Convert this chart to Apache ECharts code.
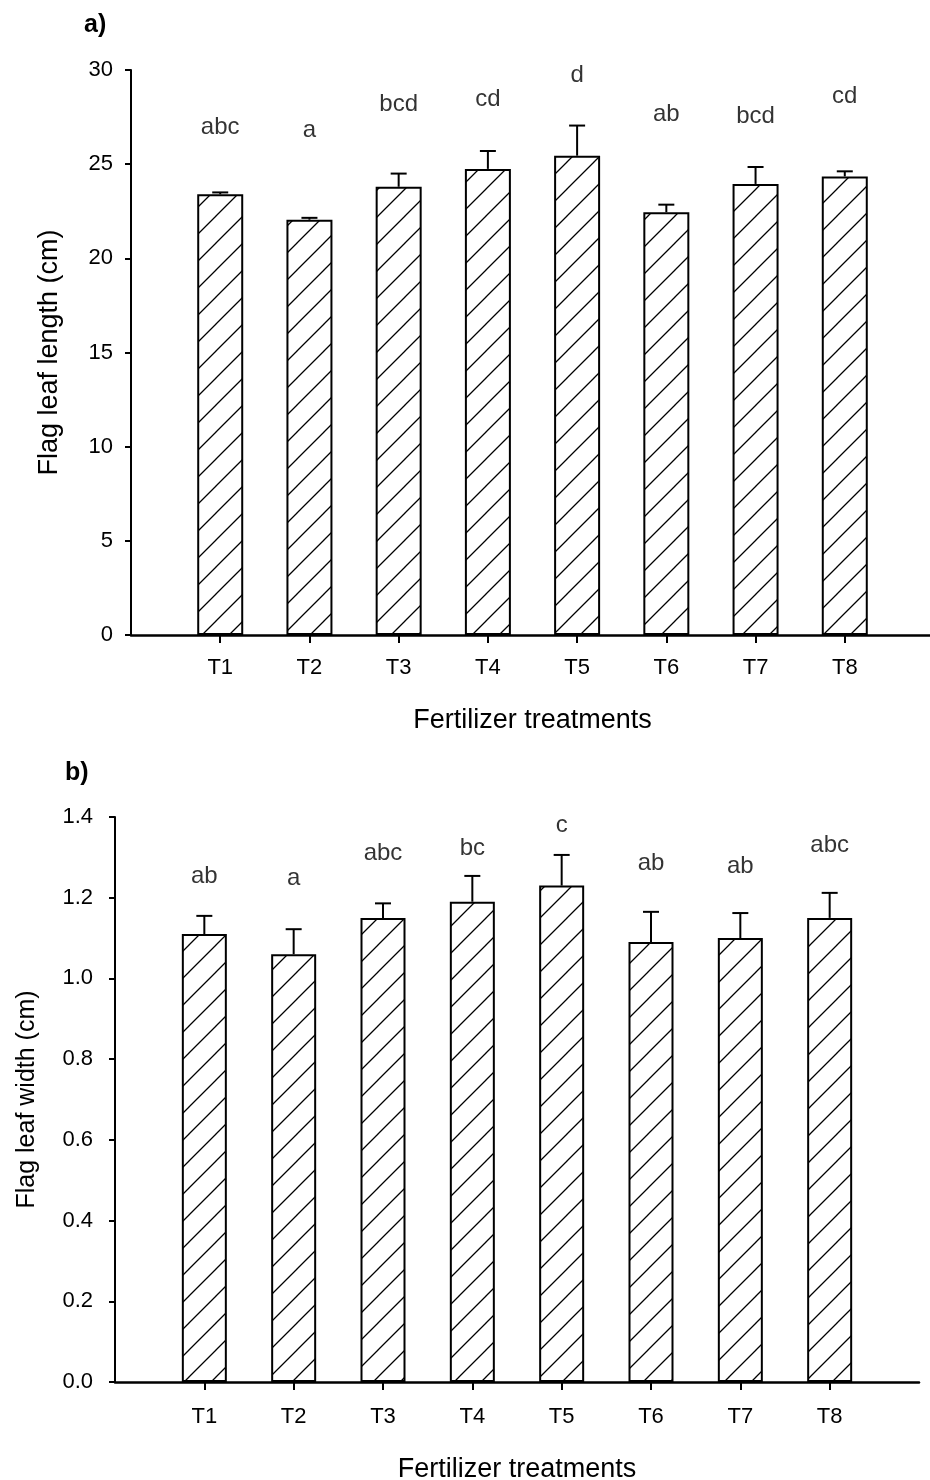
<!DOCTYPE html>
<html>
<head>
<meta charset="utf-8">
<script src="https://cdn.jsdelivr.net/npm/echarts@6/dist/echarts.min.js"></script>
<style>
html,body{margin:0;padding:0;background:#fff;}
#chart{width:930px;height:1480px;}
</style>
</head>
<body>
<div id="chart"></div>
<script>
// ---------- data ----------
const categories = ['T1', 'T2', 'T3', 'T4', 'T5', 'T6', 'T7', 'T8'];

const lengthMean = [23.4, 22.05, 23.8, 24.75, 25.45, 22.45, 23.95, 24.35];
const lengthErr = [0.1, 0.1, 0.7, 0.95, 1.6, 0.4, 0.9, 0.27];
const lengthLetters = ['abc', 'a', 'bcd', 'cd', 'd', 'ab', 'bcd', 'cd'];
const lengthLetterAt = [26.96, 26.78, 28.18, 28.45, 29.69, 27.62, 27.52, 28.59];

const widthMean = [1.11, 1.06, 1.15, 1.19, 1.23, 1.09, 1.10, 1.15];
const widthErr = [0.045, 0.062, 0.036, 0.064, 0.076, 0.075, 0.062, 0.062];
const widthLetters = ['ab', 'a', 'abc', 'bc', 'c', 'ab', 'ab', 'abc'];
const widthLetterAt = [1.252, 1.249, 1.311, 1.323, 1.380, 1.286, 1.278, 1.330];

const lengthAxis = { min: 0, max: 30, interval: 5 };
const widthAxis = { min: 0, max: 1.4, interval: 0.2 };

const panelLabels = ['a)', 'b)'];
const xTitle = 'Fertilizer treatments';
const yTitles = ['Flag leaf length (cm)', 'Flag leaf width (cm)'];

// ---------- helpers ----------
const FONT = "'Liberation Sans', Arial, sans-serif";
const positions = categories.map((c, i) => i + 1);

function hatch() {
  const s = 27;
  const c = document.createElement('canvas');
  c.width = s; c.height = s;
  const g = c.getContext('2d');
  g.strokeStyle = '#000';
  g.lineWidth = 1.3;
  g.beginPath();
  g.moveTo(-2, s + 2); g.lineTo(s + 2, -2);
  g.moveTo(-2, 2); g.lineTo(2, -2);
  g.moveTo(s - 2, s + 2); g.lineTo(s + 2, s - 2);
  g.stroke();
  return c;
}
const pattern = { image: hatch(), repeat: 'repeat' };

function xAxisFor(idx, titleGap, titleSize, labelMargin) {
  return {
    type: 'value', gridIndex: idx, min: 0, max: categories.length + 1, interval: 1,
    splitLine: { show: false },
    axisLine: { show: true, onZero: false, lineStyle: { color: '#000', width: 2.5 } },
    axisTick: { show: true, customValues: positions, length: 8, lineStyle: { color: '#000', width: 2 } },
    axisLabel: {
      customValues: positions, margin: labelMargin, fontSize: 22, color: '#000', fontFamily: FONT,
      formatter: v => categories[Math.round(v) - 1] || ''
    },
    name: xTitle, nameLocation: 'middle', nameGap: titleGap,
    nameTextStyle: { fontSize: titleSize, color: '#000', fontFamily: FONT }
  };
}

function yAxisFor(idx, ax, digits, title, gap, titleSize, labelMargin) {
  return {
    type: 'value', gridIndex: idx, min: ax.min, max: ax.max, interval: ax.interval,
    splitLine: { show: false },
    axisLine: { show: true, lineStyle: { color: '#000', width: 2 } },
    axisTick: { show: true, length: 6, lineStyle: { color: '#000', width: 2 } },
    axisLabel: {
      margin: labelMargin, fontSize: 22, color: '#000', fontFamily: FONT,
      formatter: v => v.toFixed(digits)
    },
    name: title, nameLocation: 'middle', nameGap: gap,
    nameTextStyle: { fontSize: titleSize, color: '#000', fontFamily: FONT }
  };
}

function barSeries(idx, means, width) {
  return {
    type: 'bar', xAxisIndex: idx, yAxisIndex: idx,
    barWidth: width,
    data: means.map((m, i) => [positions[i], m]),
    itemStyle: { color: pattern, borderColor: '#000', borderWidth: 2 },
    z: 2
  };
}

function errSeries(idx, means, errs) {
  return {
    type: 'custom', xAxisIndex: idx, yAxisIndex: idx, z: 3,
    data: means.map((m, i) => [positions[i], m, errs[i]]),
    renderItem: function (params, api) {
      const x = api.value(0), m = api.value(1), e = api.value(2);
      const p0 = api.coord([x, m]);
      const p1 = api.coord([x, m + e]);
      const st = { stroke: '#000', lineWidth: 2 };
      return {
        type: 'group',
        children: [
          { type: 'line', shape: { x1: p0[0], y1: p0[1], x2: p1[0], y2: p1[1] }, style: st },
          { type: 'line', shape: { x1: p1[0] - 8, y1: p1[1], x2: p1[0] + 8, y2: p1[1] }, style: st }
        ]
      };
    }
  };
}

function letterSeries(idx, letters, at) {
  return {
    type: 'scatter', xAxisIndex: idx, yAxisIndex: idx, z: 4,
    symbolSize: 1, itemStyle: { color: 'rgba(0,0,0,0)' },
    data: letters.map((l, i) => ({ value: [positions[i], at[i]], name: l })),
    label: {
      show: true, position: 'inside', formatter: p => p.name,
      fontSize: 24, color: '#000', fontFamily: FONT
    },
    silent: true
  };
}

const chart = echarts.init(document.getElementById('chart'), null, { renderer: 'canvas' });
chart.setOption({
  backgroundColor: '#fff',
  animation: false,
  grid: [
    { left: 131, top: 70, width: 803, height: 565, outerBoundsMode: 'none', containLabel: false },
    { left: 115, top: 817, width: 804, height: 565, outerBoundsMode: 'none', containLabel: false }
  ],
  xAxis: [xAxisFor(0, 72, 27, 22), xAxisFor(1, 74, 27, 24)],
  yAxis: [
    yAxisFor(0, lengthAxis, 0, yTitles[0], 68, 27, 18),
    yAxisFor(1, widthAxis, 1, yTitles[1], 75, 25, 22)
  ],
  series: [
    barSeries(0, lengthMean, 46), errSeries(0, lengthMean, lengthErr), letterSeries(0, lengthLetters, lengthLetterAt),
    barSeries(1, widthMean, 45), errSeries(1, widthMean, widthErr), letterSeries(1, widthLetters, widthLetterAt)
  ],
  graphic: [
    { type: 'text', left: 84, top: 13, style: { text: panelLabels[0], font: "bold 25px 'Liberation Sans', Arial, sans-serif", fill: '#000' } },
    { type: 'text', left: 65, top: 761, style: { text: panelLabels[1], font: "bold 25px 'Liberation Sans', Arial, sans-serif", fill: '#000' } }
  ]
});
</script>
</body>
</html>
